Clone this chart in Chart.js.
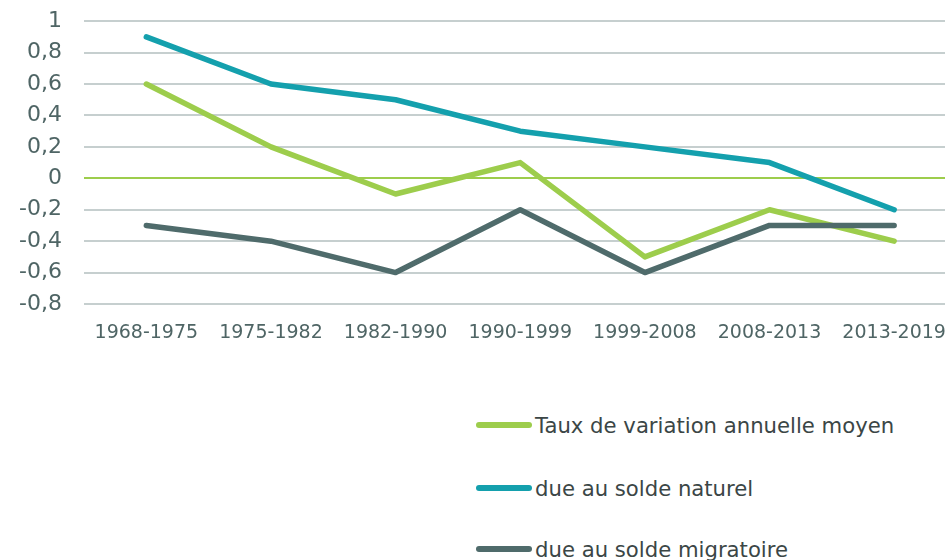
<!DOCTYPE html>
<html>
<head>
<meta charset="utf-8">
<script src="https://cdn.jsdelivr.net/npm/chart.js@4.4.0/dist/chart.umd.min.js"></script>
<style>
  html, body { margin: 0; padding: 0; background: #fff; overflow: hidden; }
  #wrap { position: relative; width: 945px; height: 560px; overflow: hidden; }
  #lineChart { position: absolute; left: 0; top: -14px; }
  #legend { position: absolute; left: 476px; top: 0; font-family: "DejaVu Sans", sans-serif; font-size: 21.2px; color: #3b4646; }
  .item { position: absolute; left: 0; white-space: nowrap; display: flex; align-items: center; }
  .swatch { width: 56px; height: 6px; border-radius: 3px; margin-right: 3px; }
</style>
</head>
<body>
<div id="wrap">
  <canvas id="lineChart" width="964" height="374"></canvas>
  <div id="legend"></div>
</div>
<script>
var periods = ["1968-1975", "1975-1982", "1982-1990", "1990-1999", "1999-2008", "2008-2013", "2013-2019"];
var tauxVariation = [0.6, 0.2, -0.1, 0.1, -0.5, -0.2, -0.4];
var soldeNaturel = [0.9, 0.6, 0.5, 0.3, 0.2, 0.1, -0.2];
var soldeMigratoire = [-0.3, -0.4, -0.6, -0.2, -0.6, -0.3, -0.3];
var seriesLabels = ["Taux de variation annuelle moyen", "due au solde naturel", "due au solde migratoire"];
var seriesColors = ["#9dcd4c", "#14a0ad", "#4f6b6b"];

var textColor = "#4f6565";
var lineData = {
    labels: periods,
    datasets: [
        { label: seriesLabels[0], data: tauxVariation, borderColor: seriesColors[0], order: 2 },
        { label: seriesLabels[1], data: soldeNaturel, borderColor: seriesColors[1], order: 3 },
        { label: seriesLabels[2], data: soldeMigratoire, borderColor: seriesColors[2], order: 1 }
    ].map(function (d) {
        d.backgroundColor = 'transparent';
        d.borderWidth = 5.5;
        d.borderCapStyle = 'round';
        d.borderJoinStyle = 'round';
        d.pointRadius = 0;
        d.tension = 0;
        return d;
    })
};

var lineOptions = {
    responsive: false,
    animation: false,
    layout: { padding: { top: 0, right: 1, left: 0, bottom: 0 } },
    plugins: { legend: { display: false }, tooltip: { enabled: false } },
    scales: {
        x: {
            offset: true,
            grid: { display: false, drawTicks: false },
            border: { display: false },
            ticks: { color: textColor, padding: 18, maxRotation: 0, autoSkip: false,
                      font: { family: "DejaVu Sans", size: 19 } },
            afterFit: function (s) { s.height = 56; }
        },
        y: {
            min: -0.8, max: 1,
            grid: {
                drawTicks: false,
                lineWidth: 2,
                color: function (c) { return c.tick && Math.abs(c.tick.value) < 1e-9 ? "#9dcd4c" : "#c6cfcf"; }
            },
            border: { display: false },
            ticks: {
                stepSize: 0.2, autoSkip: false, color: textColor, padding: 22,
                font: { family: "DejaVu Sans", size: 22 },
                callback: function (v) {
                    var r = Math.round(v * 10) / 10;
                    return String(r).replace('.', ',');
                }
            },
            afterFit: function (s) { s.width = 84; }
        }
    }
};

var ctx = document.getElementById("lineChart").getContext("2d");
new Chart(ctx, { type: 'line', data: lineData, options: lineOptions });

var rowTops = [425, 488, 549];
var legend = document.getElementById("legend");
seriesLabels.forEach(function (lbl, i) {
    var item = document.createElement("div");
    item.className = "item";
    item.style.top = (rowTops[i] - 14) + "px";
    item.style.height = "28px";
    var sw = document.createElement("span");
    sw.className = "swatch";
    sw.style.background = seriesColors[i];
    var tx = document.createElement("span");
    tx.textContent = lbl;
    item.appendChild(sw);
    item.appendChild(tx);
    legend.appendChild(item);
});
</script>
</body>
</html>
